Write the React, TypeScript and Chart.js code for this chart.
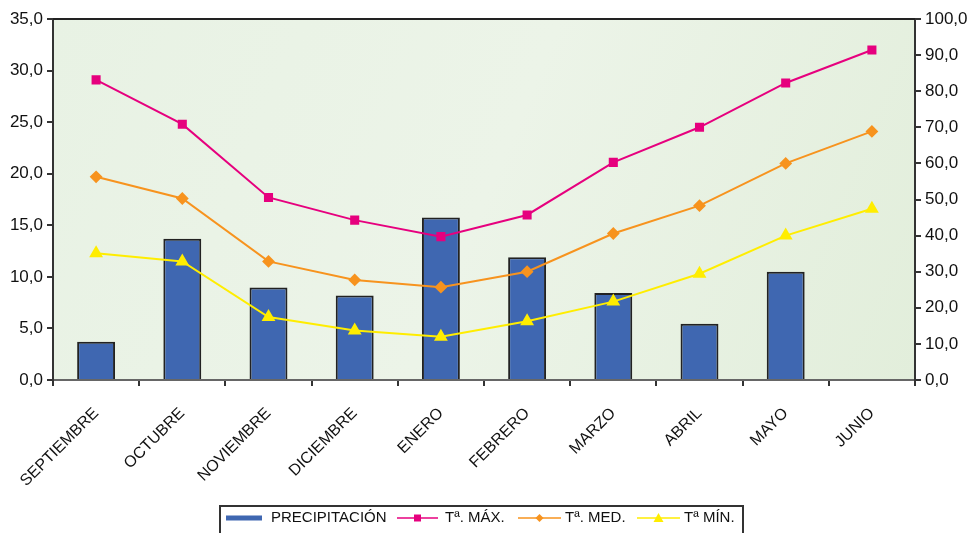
import React, { useEffect, useRef } from "react";
import { Chart, registerables } from "chart.js";

Chart.register(...registerables);

const categories = ["SEPTIEMBRE", "OCTUBRE", "NOVIEMBRE", "DICIEMBRE", "ENERO", "FEBRERO", "MARZO", "ABRIL", "MAYO", "JUNIO"];
const precipitation: (number | null)[] = [10.6, 39.1, 25.6, 23.4, 45.0, 34.0, 24.1, 15.6, 30.0, null];
const tMax = [29.1, 24.8, 17.7, 15.5, 13.9, 16.0, 21.1, 24.5, 28.8, 32.0];
const tMed = [19.7, 17.6, 11.5, 9.7, 9.0, 10.5, 14.2, 16.9, 21.0, 24.1];
const tMin = [12.3, 11.5, 6.1, 4.8, 4.2, 5.7, 7.6, 10.3, 14.0, 16.6];
const seriesLabels = ["PRECIPITACIÓN", "Tª. MÁX.", "Tª. MED.", "Tª MÍN."];

const FONT = "'Liberation Sans', Arial, sans-serif";
const fmt = (v: any) => Number(v).toFixed(1).replace(".", ",");

const bgPlugin = {
  id: "bgPlugin",
  beforeDraw(chart: any) {
    const { ctx, chartArea: a } = chart;
    ctx.save();
    const g = ctx.createLinearGradient(a.left, a.top, a.right, a.bottom);
    g.addColorStop(0, "rgb(232,242,228)");
    g.addColorStop(0.5, "rgb(236,244,232)");
    g.addColorStop(1, "rgb(226,238,219)");
    ctx.fillStyle = g;
    ctx.fillRect(a.left, a.top, a.right - a.left, a.bottom - a.top);
    ctx.restore();
  },
  afterDraw(chart: any) {
    const { ctx, chartArea: a } = chart;
    ctx.save();
    ctx.strokeStyle = "#222";
    ctx.lineWidth = 2;
    ctx.beginPath();
    ctx.moveTo(a.left, a.top);
    ctx.lineTo(a.right, a.top);
    ctx.stroke();

    // legend
    const bx = 220, by = 506, bw = 523, bh = 34;
    ctx.strokeStyle = "#333";
    ctx.lineWidth = 2;
    ctx.strokeRect(bx, by, bw, bh);
    ctx.font = `15px ${FONT}`;
    ctx.fillStyle = "#111";
    ctx.textBaseline = "middle";
    const yy = 518;
    ctx.fillStyle = "#3f67b1";
    ctx.fillRect(226, yy - 2.5, 36, 5);
    ctx.fillStyle = "#111";
    ctx.fillText(seriesLabels[0], 271, yy);
    const items = [
      { x0: 397, x1: 438, tx: 445, color: "#e6007e", style: "rect" },
      { x0: 518, x1: 561, tx: 565, color: "#f7931e", style: "rectRot" },
      { x0: 637, x1: 680, tx: 684, color: "#ffed00", style: "triangle" },
    ];
    items.forEach((it, i) => {
      ctx.strokeStyle = it.color;
      ctx.lineWidth = 1.5;
      ctx.beginPath();
      ctx.moveTo(it.x0, yy);
      ctx.lineTo(it.x1, yy);
      ctx.stroke();
      ctx.fillStyle = it.color;
      const cx = (it.x0 + it.x1) / 2;
      ctx.beginPath();
      if (it.style === "rect") {
        ctx.rect(cx - 3.5, yy - 3.5, 7, 7);
      } else if (it.style === "rectRot") {
        ctx.moveTo(cx, yy - 4);
        ctx.lineTo(cx + 4, yy);
        ctx.lineTo(cx, yy + 4);
        ctx.lineTo(cx - 4, yy);
        ctx.closePath();
      } else {
        ctx.moveTo(cx, yy - 5);
        ctx.lineTo(cx + 5, yy + 4);
        ctx.lineTo(cx - 5, yy + 4);
        ctx.closePath();
      }
      ctx.fill();
      ctx.fillStyle = "#111";
      ctx.fillText(seriesLabels[i + 1], it.tx, yy);
    });
    ctx.restore();
  },
};

export default function App() {
  const ref = useRef<HTMLCanvasElement>(null);
  useEffect(() => {
    if (!ref.current) return;
    const chart = new Chart(ref.current, {
      type: "bar",
      data: {
        labels: categories,
        datasets: [
          {
            type: "line",
            label: seriesLabels[1],
            data: tMax,
            yAxisID: "y",
            borderColor: "#e6007e",
            backgroundColor: "#e6007e",
            borderWidth: 2,
            pointStyle: "rect",
            pointRadius: 5,
            order: 1,
          } as any,
          {
            type: "line",
            label: seriesLabels[2],
            data: tMed,
            yAxisID: "y",
            borderColor: "#f7931e",
            backgroundColor: "#f7931e",
            borderWidth: 2,
            pointStyle: "rectRot",
            pointRadius: 5,
            order: 1,
          } as any,
          {
            type: "line",
            label: seriesLabels[3],
            data: tMin,
            yAxisID: "y",
            borderColor: "#ffed00",
            backgroundColor: "#ffed00",
            borderWidth: 2,
            pointStyle: "triangle",
            pointRadius: 6,
            order: 1,
          } as any,
          {
            type: "bar",
            label: seriesLabels[0],
            data: precipitation,
            yAxisID: "y1",
            backgroundColor: "#3f67b1",
            borderColor: "#222",
            borderWidth: 2,
            barPercentage: 0.44,
            categoryPercentage: 1,
            order: 2,
          } as any,
        ],
      },
      options: {
        responsive: false,
        animation: false,
        layout: { padding: { top: 19, bottom: 0, left: 0, right: 0 } },
        plugins: { legend: { display: false }, tooltip: { enabled: false } },
        scales: {
          x: {
            offset: true,
            grid: {
              offset: true,
              drawOnChartArea: false,
              drawTicks: true,
              tickLength: 6,
              color: "#333",
              lineWidth: 2,
            },
            border: { display: true, color: "#666", width: 2 },
            ticks: {
              minRotation: 45,
              maxRotation: 45,
              autoSkip: false,
              padding: 18,
              color: "#111",
              font: { family: FONT, size: 16 },
            },
            afterFit: (s: any) => { s.height = 153; },
          },
          y: {
            position: "left",
            min: 0,
            max: 35,
            ticks: {
              stepSize: 5,
              callback: (v: any) => fmt(v),
              color: "#111",
              padding: 4,
              font: { family: FONT, size: 17 },
            },
            grid: { drawOnChartArea: false, tickLength: 6, color: "#333", lineWidth: 2 },
            border: { display: true, color: "#333", width: 2 },
            afterFit: (s: any) => { s.width = 53; },
          },
          y1: {
            position: "right",
            min: 0,
            max: 100,
            ticks: {
              stepSize: 10,
              callback: (v: any) => fmt(v),
              color: "#111",
              padding: 4,
              font: { family: FONT, size: 17 },
            },
            grid: { drawOnChartArea: false, tickLength: 6, color: "#333", lineWidth: 2 },
            border: { display: true, color: "#333", width: 2 },
            afterFit: (s: any) => { s.width = 61; },
          },
        },
      },
      plugins: [bgPlugin],
    });
    return () => chart.destroy();
  }, []);
  return (
    <div style={{ position: "fixed", left: 0, top: 0, width: 976, height: 533, background: "#fff" }}>
      <canvas ref={ref} width={976} height={533} style={{ display: "block" }} />
    </div>
  );
}
